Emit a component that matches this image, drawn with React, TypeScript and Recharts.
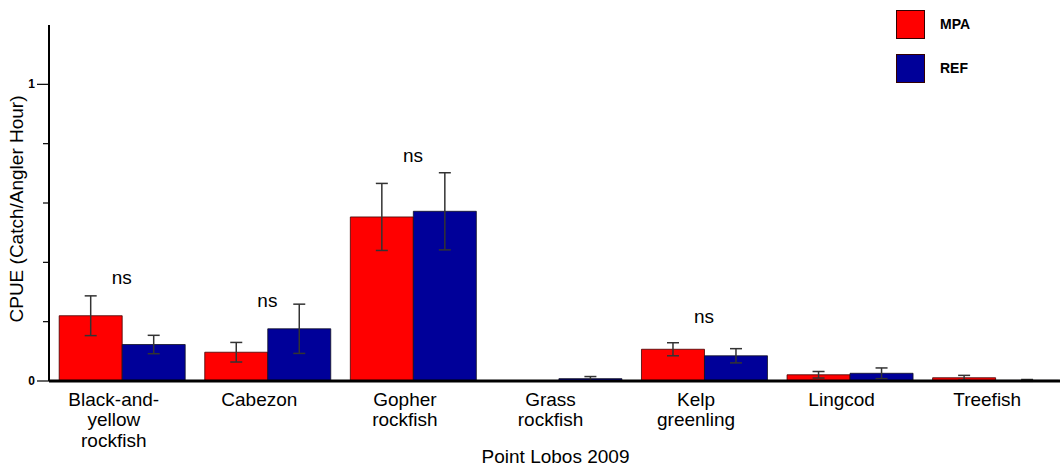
import React from 'react';
import { BarChart, Bar, XAxis, YAxis, ErrorBar, Legend, ReferenceDot } from 'recharts';

const species = ['Black-and-yellow rockfish', 'Cabezon', 'Gopher rockfish', 'Grass rockfish', 'Kelp greenling', 'Lingcod', 'Treefish'];
const speciesLines = [['Black-and-', 'yellow', 'rockfish'], ['Cabezon'], ['Gopher', 'rockfish'], ['Grass', 'rockfish'], ['Kelp', 'greenling'], ['Lingcod'], ['Treefish']];
const mpaCpue = [0.22, 0.097, 0.553, 0, 0.107, 0.021, 0.011];
const mpaSe = [0.067, 0.033, 0.113, 0, 0.022, 0.011, 0.008];
const refCpue = [0.123, 0.176, 0.572, 0.008, 0.085, 0.026, 0.002];
const refSe = [0.031, 0.083, 0.13, 0.007, 0.024, 0.018, 0.003];
const nsLevel = [0.327, 0.25, 0.739, null, 0.194, null, null];
const yTicks = [0, 0.2, 0.4, 0.6, 0.8, 1];
const yTickLabels: Record<string, string> = { '0': '0', '1': '1' };

const FONT = "'Liberation Sans', Arial, sans-serif";
const RED = '#ff0000';
const BLUE = '#000099';

// note: a data field called "ref" gets spread onto elements, so use refSite
const data = species.map((name, i) => ({
  name,
  mpa: mpaCpue[i],
  mpaSe: mpaSe[i],
  refSite: refCpue[i],
  refSiteSe: refSe[i],
}));

const YTick = ({ x, y, payload }: any) => {
  const label = yTickLabels[String(payload.value)];
  return (
    <g>
      <line x1={x - (label ? 12 : 6)} x2={x} y1={y} y2={y} stroke="#000" strokeWidth={1.2} />
      {label && (
        <text x={x - 14} y={y + 4} textAnchor="end" fontSize={12} fontWeight="bold" fontFamily={FONT} fill="#000">
          {label}
        </text>
      )}
    </g>
  );
};

const XTick = ({ x, y, payload }: any) => {
  const lines = speciesLines[species.indexOf(payload.value)] || [payload.value];
  return (
    <text x={x - 8} y={y + 24.7} textAnchor="middle" fontSize={19} fontFamily={FONT} fill="#000">
      {lines.map((l, i) => (
        <tspan key={i} x={x - 8} dy={i === 0 ? 0 : 20.5}>{l}</tspan>
      ))}
    </text>
  );
};

const YTitle = ({ viewBox }: any) => {
  const cx = 22.5;
  const cy = viewBox.y + viewBox.height / 2 + 6;
  return (
    <text x={cx} y={cy} transform={`rotate(-90 ${cx} ${cy})`} textAnchor="middle" fontSize={19} fontFamily={FONT} fill="#000">
      CPUE (Catch/Angler Hour)
    </text>
  );
};

const XTitle = ({ viewBox }: any) => (
  <text x={viewBox.x + viewBox.width / 2 - 3} y={463} textAnchor="middle" fontSize={19} fontFamily={FONT} fill="#000">
    Point Lobos 2009
  </text>
);

const NsLabel = ({ viewBox }: any) => (
  <text x={viewBox.x + viewBox.width / 2} y={viewBox.y + viewBox.height / 2} textAnchor="middle" fontSize={19} fontFamily={FONT} fill="#000">
    ns
  </text>
);

const LegendBox = ({ payload }: any) => (
  <div style={{ fontFamily: FONT, fontWeight: 'bold', fontSize: 14, color: '#000' }}>
    {(payload || []).map((p: any, i: number) => (
      <div key={p.value} style={{ display: 'flex', alignItems: 'center', height: 30, marginBottom: i === 0 ? 14 : 0 }}>
        <div style={{ width: 29, height: 29, background: p.color, border: '1px solid #300', boxSizing: 'border-box' }} />
        <span style={{ marginLeft: 15 }}>{p.value}</span>
      </div>
    ))}
  </div>
);

export default function App() {
  return (
    <div style={{ position: 'absolute', left: 0, top: 0, width: 1060, height: 467, overflow: 'hidden', background: '#fff' }}>
      <BarChart
        width={1070}
        height={467}
        data={data}
        margin={{ top: 25, right: 2, left: 0, bottom: 0 }}
        barCategoryGap="7%"
        barGap={0}
      >
        <XAxis
          dataKey="name"
          height={86}
          axisLine={{ stroke: '#000', strokeWidth: 3 }}
          tickLine={false}
          tickSize={0}
          tickMargin={0}
          interval={0}
          tick={<XTick />}
          label={<XTitle />}
        />
        <YAxis
          width={49}
          domain={[0, 1.2]}
          ticks={yTicks}
          allowDataOverflow
          axisLine={{ stroke: '#000', strokeWidth: 2 }}
          tickLine={false}
          tickSize={0}
          tickMargin={0}
          tick={<YTick />}
          label={<YTitle />}
        />
        <Legend
          layout="horizontal"
          align="center"
          verticalAlign="middle"
          wrapperStyle={{ left: 896, top: 9, width: 120 }}
          content={<LegendBox />}
        />
        <Bar dataKey="mpa" name="MPA" fill={RED} stroke="#400" strokeWidth={0.8} isAnimationActive={false}>
          <ErrorBar dataKey="mpaSe" width={6} stroke="#333" strokeWidth={1.5} />
        </Bar>
        <Bar dataKey="refSite" name="REF" fill={BLUE} stroke="#112" strokeWidth={0.8} isAnimationActive={false}>
          <ErrorBar dataKey="refSiteSe" width={6} stroke="#333" strokeWidth={1.5} />
        </Bar>
        {species.map((s, i) =>
          nsLevel[i] == null ? null : (
            <ReferenceDot key={s} x={s} y={nsLevel[i] as number} r={1} fill="none" stroke="none" label={<NsLabel />} />
          )
        )}
      </BarChart>
    </div>
  );
}
